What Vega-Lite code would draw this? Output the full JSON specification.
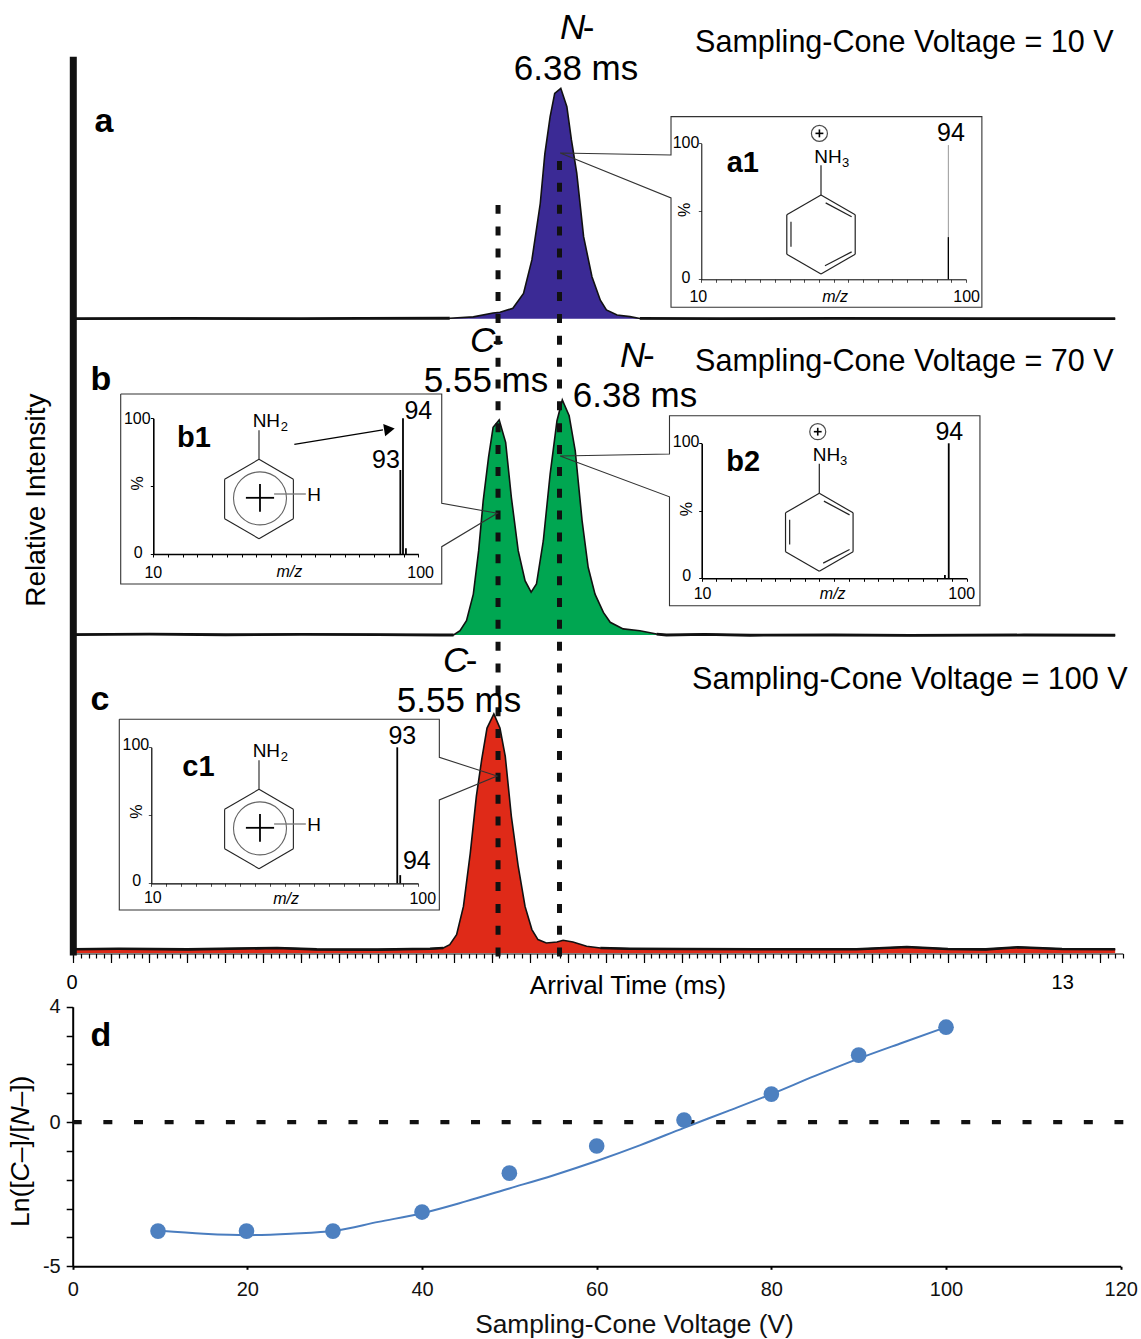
{"$schema":"https://vega.github.io/schema/vega-lite/v6.json","width":1141,"height":1339,"padding":0,"autosize":{"type":"none"},"background":"white","config":{"font":"Liberation Sans","view":{"stroke":null},"axis":{"grid":false,"domainColor":"black","tickColor":"black","title":null}},
"resolve":{"scale":{"x":"independent","y":"independent"}},
"layer":[
{"encoding":{"x":{"field":"t","type":"quantitative","scale":{"domain":[0,13.8],"range":[73.3,1122.8],"nice":false,"zero":false},"axis":{"orient":"bottom","offset":-385.5,"labels":false,"domain":false,"tickCount":27,"tickSize":9,"tickWidth":1.2}},"y":{"field":"i","type":"quantitative","scale":{"domain":[0,100],"range":[318.7,88.3],"nice":false,"zero":false},"axis":null}},
"layer":[
{"data":{"name":"traceA","values":[{"t":0,"i":0},{"t":1.5,"i":0.1},{"t":3,"i":0},{"t":3.77,"i":0.1},{"t":4.95,"i":0.2},{"t":5.26,"i":0.8},{"t":5.52,"i":2.5},{"t":5.61,"i":2.8},{"t":5.78,"i":4.5},{"t":5.92,"i":11},{"t":6.03,"i":25.5},{"t":6.14,"i":50},{"t":6.2,"i":71.4},{"t":6.27,"i":87.7},{"t":6.33,"i":97.8},{"t":6.41,"i":100},{"t":6.49,"i":92},{"t":6.55,"i":77.6},{"t":6.62,"i":63.2},{"t":6.71,"i":35.6},{"t":6.82,"i":18.2},{"t":6.93,"i":8},{"t":7.01,"i":3.8},{"t":7.15,"i":1.6},{"t":7.32,"i":0.9},{"t":7.45,"i":0.1},{"t":8.5,"i":0},{"t":10,"i":0.1},{"t":12,"i":0},{"t":13.7,"i":0}]},"mark":{"type":"area","color":"#3B2A95"},"encoding":{"y2":{"datum":0}}},
{"data":{"name":"traceA"},"mark":{"type":"line","color":"#111111","strokeWidth":1.6}},
{"data":{"name":"traceA"},"transform":[{"filter":"datum.t<=5.0"}],"mark":{"type":"line","color":"#111111","strokeWidth":2.8}},
{"data":{"name":"traceA"},"transform":[{"filter":"datum.t>=7.45"}],"mark":{"type":"line","color":"#111111","strokeWidth":2.8}},
{"data":{"values":[{"t":6.4,"i":126.2,"s":"N"}]},"mark":{"type":"text","fontSize":35,"fontStyle":"italic","align":"left","baseline":"middle"},"encoding":{"text":{"field":"s"}}},
{"data":{"values":[{"t":6.7,"i":126.2,"s":"-"}]},"mark":{"type":"text","fontSize":35,"align":"left","baseline":"middle"},"encoding":{"text":{"field":"s"}}},
{"data":{"values":[{"t":6.61,"i":108.4,"s":"6.38 ms"}]},"mark":{"type":"text","fontSize":35,"align":"center","baseline":"middle"},"encoding":{"text":{"field":"s"}}},
{"data":{"values":[{"t":8.175,"i":119.7,"s":"Sampling-Cone Voltage = 10 V"}]},"mark":{"type":"text","fontSize":30.55,"align":"left","baseline":"middle"},"encoding":{"text":{"field":"s"}}},
{"data":{"values":[{"t":0.404,"i":85.4,"s":"a"}]},"mark":{"type":"text","fontSize":34,"fontWeight":"bold","align":"center","baseline":"middle"},"encoding":{"text":{"field":"s"}}}
]},
{"encoding":{"x":{"field":"t","type":"quantitative","scale":{"domain":[0,13.8],"range":[73.3,1122.8],"nice":false,"zero":false},"axis":null},"y":{"field":"i","type":"quantitative","scale":{"domain":[0,100],"range":[635,400],"nice":false,"zero":false},"axis":null}},
"layer":[
{"data":{"name":"traceB","values":[{"t":0,"i":0.2},{"t":1,"i":0.4},{"t":2,"i":0.1},{"t":3,"i":0.3},{"t":4,"i":0.2},{"t":4.82,"i":0},{"t":5.0,"i":0},{"t":5.085,"i":1.8},{"t":5.17,"i":6.1},{"t":5.26,"i":17.4},{"t":5.33,"i":35.9},{"t":5.39,"i":57.2},{"t":5.46,"i":75.6},{"t":5.52,"i":88.4},{"t":5.6,"i":91.5},{"t":5.685,"i":82},{"t":5.76,"i":58.6},{"t":5.85,"i":35.9},{"t":5.94,"i":23.1},{"t":6.02,"i":18.2},{"t":6.09,"i":21.7},{"t":6.18,"i":40},{"t":6.27,"i":68.5},{"t":6.36,"i":91.2},{"t":6.43,"i":100},{"t":6.52,"i":93.3},{"t":6.6,"i":78.4},{"t":6.69,"i":48.7},{"t":6.77,"i":28.8},{"t":6.86,"i":17.4},{"t":6.97,"i":9.6},{"t":7.06,"i":5.4},{"t":7.23,"i":2.6},{"t":7.45,"i":1.8},{"t":7.67,"i":0.4},{"t":7.8,"i":0},{"t":8.3,"i":0.3},{"t":8.9,"i":-0.1},{"t":10,"i":0},{"t":11,"i":-0.2},{"t":12.5,"i":0},{"t":13.7,"i":-0.1}]},"mark":{"type":"area","color":"#00A651"},"encoding":{"y2":{"datum":0}}},
{"data":{"name":"traceB"},"mark":{"type":"line","color":"#111111","strokeWidth":1.6}},
{"data":{"name":"traceB"},"transform":[{"filter":"datum.t<=5.0"}],"mark":{"type":"line","color":"#111111","strokeWidth":2.8}},
{"data":{"name":"traceB"},"transform":[{"filter":"datum.t>=7.67"}],"mark":{"type":"line","color":"#111111","strokeWidth":2.8}},
{"data":{"values":[{"t":5.216,"i":125.1,"s":"C"},{"t":7.19,"i":118.7,"s":"N"}]},"mark":{"type":"text","fontSize":35,"fontStyle":"italic","align":"left","baseline":"middle"},"encoding":{"text":{"field":"s"}}},
{"data":{"values":[{"t":5.51,"i":125.1,"s":"-"},{"t":7.49,"i":118.7,"s":"-"}]},"mark":{"type":"text","fontSize":35,"align":"left","baseline":"middle"},"encoding":{"text":{"field":"s"}}},
{"data":{"values":[{"t":5.427,"i":108.1,"s":"5.55 ms"},{"t":7.386,"i":101.7,"s":"6.38 ms"}]},"mark":{"type":"text","fontSize":35,"align":"center","baseline":"middle"},"encoding":{"text":{"field":"s"}}},
{"data":{"values":[{"t":8.175,"i":116.2,"s":"Sampling-Cone Voltage = 70 V"}]},"mark":{"type":"text","fontSize":30.55,"align":"left","baseline":"middle"},"encoding":{"text":{"field":"s"}}},
{"data":{"values":[{"t":0.364,"i":108.5,"s":"b"}]},"mark":{"type":"text","fontSize":34,"fontWeight":"bold","align":"center","baseline":"middle"},"encoding":{"text":{"field":"s"}}},
{"data":{"values":[{"t":-0.477,"i":57.4,"s":"Relative Intensity"}]},"mark":{"type":"text","fontSize":28,"angle":270,"align":"center","baseline":"middle"},"encoding":{"text":{"field":"s"}}}
]},
{"encoding":{"x":{"field":"t","type":"quantitative","scale":{"domain":[0,13.8],"range":[73.3,1122.8],"nice":false,"zero":false},"axis":{"orient":"bottom","offset":-385.5,"labels":false,"tickCount":138,"tickSize":4.5,"tickWidth":1.2,"domainWidth":1.2}},"y":{"field":"i","type":"quantitative","scale":{"domain":[0,100],"range":[953,714],"nice":false,"zero":false},"axis":null}},
"layer":[
{"data":{"name":"traceC","values":[{"t":0,"i":1.6},{"t":0.6,"i":1.8},{"t":1.5,"i":1.5},{"t":2.68,"i":2.1},{"t":3.2,"i":1.5},{"t":4,"i":1.4},{"t":4.69,"i":1.8},{"t":4.865,"i":2.1},{"t":4.95,"i":3.5},{"t":5.04,"i":7.7},{"t":5.13,"i":19.5},{"t":5.22,"i":41.8},{"t":5.3,"i":65.6},{"t":5.37,"i":80.9},{"t":5.44,"i":94.1},{"t":5.53,"i":100},{"t":5.61,"i":94.1},{"t":5.68,"i":82.3},{"t":5.76,"i":57.2},{"t":5.85,"i":36.3},{"t":5.94,"i":19.5},{"t":6.03,"i":9.8},{"t":6.11,"i":5.6},{"t":6.22,"i":4.2},{"t":6.36,"i":4.6},{"t":6.44,"i":5.3},{"t":6.57,"i":4.6},{"t":6.75,"i":2.8},{"t":6.93,"i":2.1},{"t":7.32,"i":1.8},{"t":8,"i":1.7},{"t":9,"i":1.6},{"t":10.3,"i":1.6},{"t":10.96,"i":2.5},{"t":11.5,"i":1.7},{"t":12,"i":1.5},{"t":12.42,"i":2.4},{"t":13,"i":1.7},{"t":13.7,"i":1.6}]},"mark":{"type":"area","color":"#DF2A18"},"encoding":{"y2":{"datum":0}}},
{"data":{"name":"traceC"},"mark":{"type":"line","color":"#111111","strokeWidth":1.6}},
{"data":{"name":"traceC"},"transform":[{"filter":"datum.t<=4.865"}],"mark":{"type":"line","color":"#111111","strokeWidth":2.6}},
{"data":{"name":"traceC"},"transform":[{"filter":"datum.t>=6.93"}],"mark":{"type":"line","color":"#111111","strokeWidth":2.6}},
{"data":{"values":[{"t":0,"i":-1,"i2":375}]},"mark":{"type":"rule","color":"#111111","strokeWidth":7},"encoding":{"y2":{"field":"i2"}}},
{"data":{"values":[{"t":5.585,"i":-1.5,"i2":313},{"t":6.393,"i":-1.5,"i2":331.8}]},"mark":{"type":"rule","color":"#111111","strokeWidth":5,"strokeDash":[9,12.85]},"encoding":{"y2":{"field":"i2"}}},
{"data":{"values":[{"t":4.861,"i":122.2,"s":"C"}]},"mark":{"type":"text","fontSize":35,"fontStyle":"italic","align":"left","baseline":"middle"},"encoding":{"text":{"field":"s"}}},
{"data":{"values":[{"t":5.16,"i":122.2,"s":"-"}]},"mark":{"type":"text","fontSize":35,"align":"left","baseline":"middle"},"encoding":{"text":{"field":"s"}}},
{"data":{"values":[{"t":5.072,"i":105.5,"s":"5.55 ms"}]},"mark":{"type":"text","fontSize":35,"align":"center","baseline":"middle"},"encoding":{"text":{"field":"s"}}},
{"data":{"values":[{"t":8.136,"i":114.2,"s":"Sampling-Cone Voltage = 100 V"}]},"mark":{"type":"text","fontSize":30.55,"align":"left","baseline":"middle"},"encoding":{"text":{"field":"s"}}},
{"data":{"values":[{"t":0.351,"i":105.9,"s":"c"}]},"mark":{"type":"text","fontSize":34,"fontWeight":"bold","align":"center","baseline":"middle"},"encoding":{"text":{"field":"s"}}},
{"data":{"values":[{"t":-0.017,"i":-12.5,"s":"0"},{"t":13.01,"i":-12.5,"s":"13"}]},"mark":{"type":"text","fontSize":20,"align":"center","baseline":"middle"},"encoding":{"text":{"field":"s"}}},
{"data":{"values":[{"t":7.294,"i":-13.8,"s":"Arrival Time (ms)"}]},"mark":{"type":"text","fontSize":26,"align":"center","baseline":"middle"},"encoding":{"text":{"field":"s"}}}
]},

{"encoding":{"x":{"field":"m","type":"quantitative","scale":{"domain":[10,100],"range":[701.3,966],"nice":false,"zero":false},"axis":{"orient":"bottom","offset":-1059.7,"labels":false,"tickCount":18,"tickSize":3,"tickWidth":0.7,"domainWidth":1,"zindex":1}},"y":{"field":"p","type":"quantitative","scale":{"domain":[0,100],"range":[279.3,143.3],"nice":false,"zero":false},"axis":{"orient":"left","offset":-701.3,"labels":false,"values":[0,50,100],"tickSize":3,"tickWidth":0.7,"domainWidth":1,"zindex":1}}},
"layer":[
{"data":{"values":[{"m":-0.3,"m2":105.4,"p":119.6,"p2":-20.6}]},"mark":{"type":"rect","color":"white"},"encoding":{"x2":{"field":"m2"},"y2":{"field":"p2"}}},
{"data":{"values":[{"m":-38,"p":92.9,"o":0},{"m":-0.3,"p":91.4,"o":1},{"m":-0.3,"p":119.6,"o":2},{"m":105.4,"p":119.6,"o":3},{"m":105.4,"p":-20.6,"o":4},{"m":-0.3,"p":-20.6,"o":5},{"m":-0.3,"p":59.8,"o":6},{"m":-38,"p":92.9,"o":7}]},"mark":{"type":"line","color":"#333333","strokeWidth":1.1},"encoding":{"order":{"field":"o"}}},
{"data":{"values":[{"m":94,"p":98.7}]},"mark":{"type":"rule","color":"#999999","strokeWidth":1},"encoding":{"y2":{"datum":0}}},
{"data":{"values":[{"m":94,"p":31}]},"mark":{"type":"rule","color":"black","strokeWidth":1.3},"encoding":{"y2":{"datum":0}}},
{"data":{"values":[{"m":4.8,"p":100,"s":"100"},{"m":4.8,"p":0.7,"s":"0"},{"m":9,"p":-12.8,"s":"10"},{"m":100.2,"p":-12.8,"s":"100"}]},"mark":{"type":"text","fontSize":16,"align":"center","baseline":"middle"},"encoding":{"text":{"field":"s"}}},
{"data":{"values":[{"m":55.5,"p":-12.8,"s":"m/z"}]},"mark":{"type":"text","fontSize":16,"fontStyle":"italic","align":"center","baseline":"middle"},"encoding":{"text":{"field":"s"}}},
{"data":{"values":[{"m":4.5,"p":51,"s":"%"}]},"mark":{"type":"text","fontSize":16,"angle":270,"align":"center","baseline":"middle"},"encoding":{"text":{"field":"s"}}},
{"data":{"values":[{"m":94.9,"p":107.4,"s":"94"}]},"mark":{"type":"text","fontSize":25,"align":"center","baseline":"middle"},"encoding":{"text":{"field":"s"}}},
{"data":{"values":[{"m":24.1,"p":85.3,"s":"a1"}]},"mark":{"type":"text","fontSize":29,"fontWeight":"bold","align":"center","baseline":"middle"},"encoding":{"text":{"field":"s"}}}
]},
{"encoding":{"x":{"field":"x","type":"quantitative","scale":{"domain":[-1,1],"range":[781.5,860.5],"nice":false,"zero":false},"axis":null},"y":{"field":"y","type":"quantitative","scale":{"domain":[-1,1],"range":[274,195],"nice":false,"zero":false},"axis":null}},
"layer":[
{"data":{"name":"anilinium","values":[{"x":0,"y":1,"x2":0.866,"y2":0.5},{"x":0.866,"y":0.5,"x2":0.866,"y2":-0.5},{"x":0.866,"y":-0.5,"x2":0,"y2":-1},{"x":0,"y":-1,"x2":-0.866,"y2":-0.5},{"x":-0.866,"y":-0.5,"x2":-0.866,"y2":0.5},{"x":-0.866,"y":0.5,"x2":0,"y2":1},{"x":0.118,"y":0.8,"x2":0.776,"y2":0.447},{"x":-0.76,"y":0.32,"x2":-0.76,"y2":-0.31},{"x":0.1,"y":-0.79,"x2":0.776,"y2":-0.44},{"x":0,"y":1,"x2":0,"y2":1.755}]},"mark":{"type":"rule","color":"#222222","strokeWidth":1.2},"encoding":{"x2":{"field":"x2"},"y2":{"field":"y2"}}},
{"data":{"values":[{"x":-0.04,"y":2.56}]},"mark":{"type":"point","shape":"circle","filled":false,"color":"black","size":256,"strokeWidth":1.2}},
{"data":{"values":[{"x":-0.14,"y":2.56,"x2":0.06,"y2":2.56},{"x":-0.04,"y":2.66,"x2":-0.04,"y2":2.46}]},"mark":{"type":"rule","color":"black","strokeWidth":1.6},"encoding":{"x2":{"field":"x2"},"y2":{"field":"y2"}}},
{"data":{"values":[{"x":-0.17,"y":1.95,"s":"NH"}]},"mark":{"type":"text","fontSize":19,"align":"left","baseline":"middle"},"encoding":{"text":{"field":"s"}}},
{"data":{"values":[{"x":0.53,"y":1.8,"s":"3"}]},"mark":{"type":"text","fontSize":13,"align":"left","baseline":"middle"},"encoding":{"text":{"field":"s"}}}
]},

{"encoding":{"x":{"field":"m","type":"quantitative","scale":{"domain":[10,100],"range":[153.3,418.3],"nice":false,"zero":false},"axis":{"orient":"bottom","offset":-785,"labels":false,"tickCount":18,"tickSize":3,"tickWidth":1,"domainWidth":1.6,"zindex":1}},"y":{"field":"p","type":"quantitative","scale":{"domain":[0,100],"range":[554,418.3],"nice":false,"zero":false},"axis":{"orient":"left","offset":-153.3,"labels":false,"values":[0,50,100],"tickSize":3,"tickWidth":1,"domainWidth":1.6,"zindex":1}}},
"layer":[
{"data":{"values":[{"m":-1.07,"m2":107.96,"p":117.9,"p2":-22.1}]},"mark":{"type":"rect","color":"white"},"encoding":{"x2":{"field":"m2"},"y2":{"field":"p2"}}},
{"data":{"values":[{"m":-1.07,"p":117.9,"o":0},{"m":107.96,"p":117.9,"o":1},{"m":107.96,"p":37.4,"o":2},{"m":126.85,"p":30,"o":3},{"m":107.96,"p":5.4,"o":4},{"m":107.96,"p":-22.1,"o":5},{"m":-1.07,"p":-22.1,"o":6},{"m":-1.07,"p":117.9,"o":7}]},"mark":{"type":"line","color":"#333333","strokeWidth":1.1},"encoding":{"order":{"field":"o"}}},
{"data":{"values":[{"m":93.9,"p":61.9},{"m":94.8,"p":100},{"m":95.8,"p":4.2}]},"mark":{"type":"rule","color":"black","strokeWidth":1.8},"encoding":{"y2":{"datum":0}}},
{"data":{"values":[{"m":57.9,"p":80.8,"m2":88,"p2":91.4}]},"mark":{"type":"rule","color":"black","strokeWidth":1.3},"encoding":{"x2":{"field":"m2"},"y2":{"field":"p2"}}},
{"data":{"values":[{"m":90.2,"p":91.9}]},"mark":{"type":"point","shape":"triangle-right","filled":true,"color":"black","opacity":1,"size":150,"angle":351}},
{"data":{"values":[{"m":4.56,"p":99.3,"s":"100"},{"m":4.9,"p":0.5,"s":"0"},{"m":10,"p":-13.8,"s":"10"},{"m":100.8,"p":-13.8,"s":"100"}]},"mark":{"type":"text","fontSize":16,"align":"center","baseline":"middle"},"encoding":{"text":{"field":"s"}}},
{"data":{"values":[{"m":56.2,"p":-13,"s":"m/z"}]},"mark":{"type":"text","fontSize":16,"fontStyle":"italic","align":"center","baseline":"middle"},"encoding":{"text":{"field":"s"}}},
{"data":{"values":[{"m":4.9,"p":52.1,"s":"%"}]},"mark":{"type":"text","fontSize":16,"angle":270,"align":"center","baseline":"middle"},"encoding":{"text":{"field":"s"}}},
{"data":{"values":[{"m":100,"p":105.6,"s":"94"},{"m":89,"p":69.3,"s":"93"}]},"mark":{"type":"text","fontSize":25,"align":"center","baseline":"middle"},"encoding":{"text":{"field":"s"}}},
{"data":{"values":[{"m":23.8,"p":85.3,"s":"b1"}]},"mark":{"type":"text","fontSize":29,"fontWeight":"bold","align":"center","baseline":"middle"},"encoding":{"text":{"field":"s"}}}
]},
{"encoding":{"x":{"field":"x","type":"quantitative","scale":{"domain":[-1,1],"range":[219.3,298.7],"nice":false,"zero":false},"axis":null},"y":{"field":"y","type":"quantitative","scale":{"domain":[-1,1],"range":[538.7,459.3],"nice":false,"zero":false},"axis":null}},
"layer":[
{"data":{"name":"radicalRing","values":[{"x":0,"y":1,"x2":0.866,"y2":0.5},{"x":0.866,"y":0.5,"x2":0.866,"y2":-0.5},{"x":0.866,"y":-0.5,"x2":0,"y2":-1},{"x":0,"y":-1,"x2":-0.866,"y2":-0.5},{"x":-0.866,"y":-0.5,"x2":-0.866,"y2":0.5},{"x":-0.866,"y":0.5,"x2":0,"y2":1},{"x":0,"y":1,"x2":0,"y2":1.73}]},"mark":{"type":"rule","color":"#222222","strokeWidth":1.1},"encoding":{"x2":{"field":"x2"},"y2":{"field":"y2"}}},
{"data":{"values":[{"x":0.025,"y":0.017}]},"mark":{"type":"point","shape":"circle","filled":false,"color":"#222222","size":2809,"strokeWidth":1.1}},
{"data":{"name":"radicalPlus","values":[{"x":-0.33,"y":0.03,"x2":0.38,"y2":0.03},{"x":0.025,"y":0.38,"x2":0.025,"y2":-0.32}]},"mark":{"type":"rule","color":"black","strokeWidth":1.8},"encoding":{"x2":{"field":"x2"},"y2":{"field":"y2"}}},
{"data":{"name":"radicalH","values":[{"x":0.38,"y":0.126,"x2":1.18,"y2":0.126}]},"mark":{"type":"rule","color":"#777777","strokeWidth":1.3},"encoding":{"x2":{"field":"x2"},"y2":{"field":"y2"}}},
{"data":{"values":[{"x":1.39,"y":0.1,"s":"H"}]},"mark":{"type":"text","fontSize":19,"align":"center","baseline":"middle"},"encoding":{"text":{"field":"s"}}},
{"data":{"values":[{"x":-0.16,"y":1.97,"s":"NH"}]},"mark":{"type":"text","fontSize":19,"align":"left","baseline":"middle"},"encoding":{"text":{"field":"s"}}},
{"data":{"values":[{"x":0.55,"y":1.81,"s":"2"}]},"mark":{"type":"text","fontSize":13,"align":"left","baseline":"middle"},"encoding":{"text":{"field":"s"}}}
]},

{"encoding":{"x":{"field":"m","type":"quantitative","scale":{"domain":[10,100],"range":[701.7,966.7],"nice":false,"zero":false},"axis":{"orient":"bottom","offset":-760.7,"labels":false,"tickCount":18,"tickSize":3,"tickWidth":1,"domainWidth":1.6,"zindex":1}},"y":{"field":"p","type":"quantitative","scale":{"domain":[0,100],"range":[578.3,443.3],"nice":false,"zero":false},"axis":{"orient":"left","offset":-701.7,"labels":false,"values":[0,50,100],"tickSize":3,"tickWidth":1,"domainWidth":1.6,"zindex":1}}},
"layer":[
{"data":{"values":[{"m":-0.94,"m2":104.5,"p":120.4,"p2":-20.3}]},"mark":{"type":"rect","color":"white"},"encoding":{"x2":{"field":"m2"},"y2":{"field":"p2"}}},
{"data":{"values":[{"m":-38.1,"p":90.6,"o":0},{"m":-0.94,"p":92.1,"o":1},{"m":-0.94,"p":120.4,"o":2},{"m":104.5,"p":120.4,"o":3},{"m":104.5,"p":-20.3,"o":4},{"m":-0.94,"p":-20.3,"o":5},{"m":-0.94,"p":60.4,"o":6},{"m":-38.1,"p":90.6,"o":7}]},"mark":{"type":"line","color":"#333333","strokeWidth":1.1},"encoding":{"order":{"field":"o"}}},
{"data":{"values":[{"m":93.9,"p":100},{"m":92.6,"p":2.4}]},"mark":{"type":"rule","color":"black","strokeWidth":1.8},"encoding":{"y2":{"datum":0}}},
{"data":{"values":[{"m":4.7,"p":100.7,"s":"100"},{"m":4.9,"p":1.9,"s":"0"},{"m":10.3,"p":-11.9,"s":"10"},{"m":98.3,"p":-11.9,"s":"100"}]},"mark":{"type":"text","fontSize":16,"align":"center","baseline":"middle"},"encoding":{"text":{"field":"s"}}},
{"data":{"values":[{"m":54.5,"p":-11.9,"s":"m/z"}]},"mark":{"type":"text","fontSize":16,"fontStyle":"italic","align":"center","baseline":"middle"},"encoding":{"text":{"field":"s"}}},
{"data":{"values":[{"m":4.9,"p":51.3,"s":"%"}]},"mark":{"type":"text","fontSize":16,"angle":270,"align":"center","baseline":"middle"},"encoding":{"text":{"field":"s"}}},
{"data":{"values":[{"m":94.1,"p":108.6,"s":"94"}]},"mark":{"type":"text","fontSize":25,"align":"center","baseline":"middle"},"encoding":{"text":{"field":"s"}}},
{"data":{"values":[{"m":24.1,"p":86.4,"s":"b2"}]},"mark":{"type":"text","fontSize":29,"fontWeight":"bold","align":"center","baseline":"middle"},"encoding":{"text":{"field":"s"}}}
]},
{"encoding":{"x":{"field":"x","type":"quantitative","scale":{"domain":[-1,1],"range":[780.3,858.3],"nice":false,"zero":false},"axis":null},"y":{"field":"y","type":"quantitative","scale":{"domain":[-1,1],"range":[571.3,493.3],"nice":false,"zero":false},"axis":null}},
"layer":[
{"data":{"name":"anilinium"},"mark":{"type":"rule","color":"#222222","strokeWidth":1.2},"encoding":{"x2":{"field":"x2"},"y2":{"field":"y2"}}},
{"data":{"values":[{"x":-0.04,"y":2.58}]},"mark":{"type":"point","shape":"circle","filled":false,"color":"black","size":256,"strokeWidth":1.2}},
{"data":{"values":[{"x":-0.14,"y":2.58,"x2":0.06,"y2":2.58},{"x":-0.04,"y":2.68,"x2":-0.04,"y2":2.48}]},"mark":{"type":"rule","color":"black","strokeWidth":1.6},"encoding":{"x2":{"field":"x2"},"y2":{"field":"y2"}}},
{"data":{"values":[{"x":-0.17,"y":1.98,"s":"NH"}]},"mark":{"type":"text","fontSize":19,"align":"left","baseline":"middle"},"encoding":{"text":{"field":"s"}}},
{"data":{"values":[{"x":0.53,"y":1.83,"s":"3"}]},"mark":{"type":"text","fontSize":13,"align":"left","baseline":"middle"},"encoding":{"text":{"field":"s"}}}
]},

{"encoding":{"x":{"field":"m","type":"quantitative","scale":{"domain":[10,100],"range":[151.3,418],"nice":false,"zero":false},"axis":{"orient":"bottom","offset":-455.7,"labels":false,"tickCount":18,"tickSize":3,"tickWidth":0.7,"domainWidth":1.2,"zindex":1}},"y":{"field":"p","type":"quantitative","scale":{"domain":[0,100],"range":[883.3,747.3],"nice":false,"zero":false},"axis":{"orient":"left","offset":-151.3,"labels":false,"values":[0,50,100],"tickSize":3,"tickWidth":0.7,"domainWidth":1.2,"zindex":1}}},
"layer":[
{"data":{"values":[{"m":-0.8,"m2":107.2,"p":120.6,"p2":-19.6}]},"mark":{"type":"rect","color":"white"},"encoding":{"x2":{"field":"m2"},"y2":{"field":"p2"}}},
{"data":{"values":[{"m":-0.8,"p":120.6,"o":0},{"m":107.2,"p":120.6,"o":1},{"m":107.2,"p":92.6,"o":2},{"m":126.7,"p":78.9,"o":3},{"m":107.2,"p":61.3,"o":4},{"m":107.2,"p":-19.6,"o":5},{"m":-0.8,"p":-19.6,"o":6},{"m":-0.8,"p":120.6,"o":7}]},"mark":{"type":"line","color":"#333333","strokeWidth":1.1},"encoding":{"order":{"field":"o"}}},
{"data":{"values":[{"m":93,"p":100},{"m":94,"p":6}]},"mark":{"type":"rule","color":"black","strokeWidth":1.8},"encoding":{"y2":{"datum":0}}},
{"data":{"values":[{"m":4.8,"p":101.7,"s":"100"},{"m":5.1,"p":1.9,"s":"0"},{"m":10.5,"p":-11,"s":"10"},{"m":101.6,"p":-11.5,"s":"100"}]},"mark":{"type":"text","fontSize":16,"align":"center","baseline":"middle"},"encoding":{"text":{"field":"s"}}},
{"data":{"values":[{"m":55.5,"p":-11.5,"s":"m/z"}]},"mark":{"type":"text","fontSize":16,"fontStyle":"italic","align":"center","baseline":"middle"},"encoding":{"text":{"field":"s"}}},
{"data":{"values":[{"m":5.1,"p":52.6,"s":"%"}]},"mark":{"type":"text","fontSize":16,"angle":270,"align":"center","baseline":"middle"},"encoding":{"text":{"field":"s"}}},
{"data":{"values":[{"m":94.7,"p":108.5,"s":"93"},{"m":99.6,"p":16.6,"s":"94"}]},"mark":{"type":"text","fontSize":25,"align":"center","baseline":"middle"},"encoding":{"text":{"field":"s"}}},
{"data":{"values":[{"m":25.9,"p":85.3,"s":"c1"}]},"mark":{"type":"text","fontSize":29,"fontWeight":"bold","align":"center","baseline":"middle"},"encoding":{"text":{"field":"s"}}}
]},
{"encoding":{"x":{"field":"x","type":"quantitative","scale":{"domain":[-1,1],"range":[219.3,298.7],"nice":false,"zero":false},"axis":null},"y":{"field":"y","type":"quantitative","scale":{"domain":[-1,1],"range":[868.7,789.3],"nice":false,"zero":false},"axis":null}},
"layer":[
{"data":{"name":"radicalRing"},"mark":{"type":"rule","color":"#222222","strokeWidth":1.1},"encoding":{"x2":{"field":"x2"},"y2":{"field":"y2"}}},
{"data":{"values":[{"x":0.025,"y":0.017}]},"mark":{"type":"point","shape":"circle","filled":false,"color":"#222222","size":2809,"strokeWidth":1.1}},
{"data":{"name":"radicalPlus"},"mark":{"type":"rule","color":"black","strokeWidth":1.8},"encoding":{"x2":{"field":"x2"},"y2":{"field":"y2"}}},
{"data":{"name":"radicalH"},"mark":{"type":"rule","color":"#777777","strokeWidth":1.3},"encoding":{"x2":{"field":"x2"},"y2":{"field":"y2"}}},
{"data":{"values":[{"x":1.39,"y":0.1,"s":"H"}]},"mark":{"type":"text","fontSize":19,"align":"center","baseline":"middle"},"encoding":{"text":{"field":"s"}}},
{"data":{"values":[{"x":-0.16,"y":1.97,"s":"NH"}]},"mark":{"type":"text","fontSize":19,"align":"left","baseline":"middle"},"encoding":{"text":{"field":"s"}}},
{"data":{"values":[{"x":0.55,"y":1.81,"s":"2"}]},"mark":{"type":"text","fontSize":13,"align":"left","baseline":"middle"},"encoding":{"text":{"field":"s"}}}
]},

{"encoding":{"x":{"field":"v","type":"quantitative","scale":{"domain":[0,120],"range":[72.7,1120.7],"nice":false,"zero":false},"axis":{"orient":"bottom","offset":-72.7,"values":[0,20,40,60,80,100,120],"tickSize":3,"tickWidth":2,"domainWidth":2,"labelFontSize":20,"labelPadding":10,"labelColor":"#111111","labelFlush":false,"labelOverlap":false,"title":"Sampling-Cone Voltage (V)","titleFontSize":26.3,"titleFontWeight":"normal","titleColor":"#111111","titleBaseline":"middle","titleX":634,"titleY":58}},"y":{"field":"l","type":"quantitative","scale":{"domain":[-5,4],"range":[1266.3,1006.7],"nice":false,"zero":false},"axis":{"orient":"left","offset":-72.7,"values":[-5,-4,-3,-2,-1,0,1,2,3,4],"tickSize":6.5,"tickWidth":1.5,"domainWidth":2,"labelFontSize":20,"labelPadding":6,"labelColor":"#111111","labelFlush":false,"labelOverlap":false,"labelExpr":"datum.value==4?'4':datum.value==0?'0':datum.value==-5?'-5':''"}}},
"layer":[
{"data":{"values":[{"v":0,"v2":120.3,"l":0}]},"mark":{"type":"rule","color":"#111111","strokeWidth":4.3,"strokeDash":[9,21.64]},"encoding":{"x2":{"field":"v2"}}},
{"data":{"values":[{"v":10,"l":-3.77},{"v":15,"l":-3.87},{"v":20,"l":-3.92},{"v":25,"l":-3.87},{"v":30,"l":-3.77},{"v":35,"l":-3.46},{"v":40,"l":-3.16},{"v":45,"l":-2.75},{"v":50,"l":-2.3},{"v":55,"l":-1.85},{"v":60,"l":-1.35},{"v":65,"l":-0.8},{"v":70,"l":-0.2},{"v":75,"l":0.38},{"v":80,"l":0.97},{"v":85,"l":1.6},{"v":90,"l":2.2},{"v":95,"l":2.75},{"v":100,"l":3.29}]},"mark":{"type":"line","color":"#4A7DBF","strokeWidth":2,"interpolate":"monotone"}},
{"data":{"values":[{"v":9.77,"l":-3.78},{"v":19.9,"l":-3.78},{"v":29.8,"l":-3.78},{"v":40,"l":-3.12},{"v":50,"l":-1.77},{"v":60,"l":-0.83},{"v":70,"l":0.07},{"v":80,"l":0.97},{"v":90,"l":2.32},{"v":100,"l":3.29}]},"mark":{"type":"point","shape":"circle","filled":true,"color":"#4D80C0","opacity":1,"size":245}},
{"data":{"values":[{"v":3.24,"l":2.98,"s":"d"}]},"mark":{"type":"text","fontSize":34,"fontWeight":"bold","align":"center","baseline":"middle"},"encoding":{"text":{"field":"s"}}},
{"data":{"values":[{"v":-5.9,"l":-3.64,"s":"Ln(["},{"v":-5.9,"l":-1.39,"s":"–]/["},{"v":-5.9,"l":0.54,"s":"–])"}]},"mark":{"type":"text","fontSize":26.5,"angle":270,"align":"left","baseline":"middle"},"encoding":{"text":{"field":"s"}}},
{"data":{"values":[{"v":-5.9,"l":-2.06,"s":"C"},{"v":-5.9,"l":-0.12,"s":"N"}]},"mark":{"type":"text","fontSize":26.5,"fontStyle":"italic","angle":270,"align":"left","baseline":"middle"},"encoding":{"text":{"field":"s"}}}
]}
]}
